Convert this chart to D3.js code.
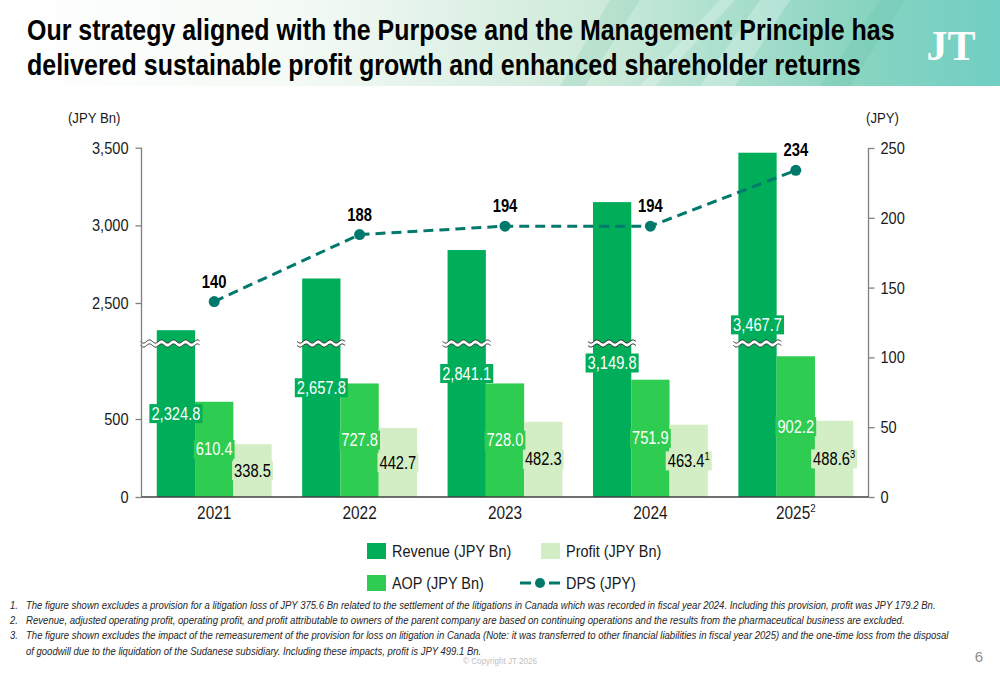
<!DOCTYPE html>
<html lang="en">
<head>
<meta charset="UTF-8">
<title>JT profit growth and shareholder returns</title>
<script src="https://d3js.org/d3.v7.min.js"></script>
<style>
  body { margin: 0; background: #fff; }
  svg text { font-family: "Liberation Sans", Arial, sans-serif; }
</style>
</head>
<body>
<svg id="chart" width="1000" height="685"></svg>
<script>
// ---- data ----
const years = ["2021", "2022", "2023", "2024", "2025"];
const yearNotes = ["", "", "", "", "2"];
const revenue = [2324.8, 2657.8, 2841.1, 3149.8, 3467.7];
const aop = [610.4, 727.8, 728.0, 751.9, 902.2];
const profit = [338.5, 442.7, 482.3, 463.4, 488.6];
const profitNotes = ["", "", "", "1", "3"];
const dps = [140, 188, 194, 194, 234];
const leftTicksLow = [0, 500];
const leftTicksHigh = [2500, 3000, 3500];
const rightTicks = [0, 50, 100, 150, 200, 250];
const footnotes = [
  "The figure shown excludes a provision for a litigation loss of JPY 375.6 Bn related to the settlement of the litigations in Canada which was recorded in fiscal year 2024. Including this provision, profit was JPY 179.2 Bn.",
  "Revenue, adjusted operating profit, operating profit, and profit attributable to owners of the parent company are based on continuing operations and the results from the pharmaceutical business are excluded.",
  "The figure shown excludes the impact of the remeasurement of the provision for loss on litigation in Canada (Note: it was transferred to other financial liabilities in fiscal year 2025) and the one-time loss from the disposal",
  "of goodwill due to the liquidation of the Sudanese subsidiary. Including these impacts, profit is JPY 499.1 Bn."
];

const colors = { rev: "#00ae5a", aop: "#2ecc50", profit: "#d3edc4", dps: "#00796d" };

const svg = d3.select("#chart");

// the slide uses a narrow face; squeeze Liberation Sans horizontally around each text's x
function squeeze(sel, sx) {
  sel.each(function () {
    const x = +this.getAttribute("x") || 0;
    this.setAttribute("transform", `translate(${x * (1 - sx)},0) scale(${sx},1)`);
  });
  return sel;
}
function fitWidth(sel, w) {
  sel.each(function () {
    const sx = w / this.getComputedTextLength();
    squeeze(d3.select(this), sx);
  });
  return sel;
}

// ---- header band ----
const defs = svg.append("defs");
const grad = defs.append("linearGradient").attr("id", "hdr").attr("x1", "0").attr("x2", "1").attr("y1", "0").attr("y2", "0");
grad.append("stop").attr("offset", "0").attr("stop-color", "#ffffff");
grad.append("stop").attr("offset", "0.3").attr("stop-color", "#f4faf5");
grad.append("stop").attr("offset", "0.6").attr("stop-color", "#cdeada");
grad.append("stop").attr("offset", "0.85").attr("stop-color", "#8ad5c1");
grad.append("stop").attr("offset", "1").attr("stop-color", "#70cec3");
svg.append("rect").attr("width", 1000).attr("height", 86).attr("fill", "url(#hdr)");
const streaks = [
  [[560, 86], [610, 0], [640, 0], [585, 86]],
  [[700, 86], [760, 0], [790, 0], [735, 86]],
  [[820, 86], [880, 0], [905, 0], [850, 86]],
  [[640, 86], [720, 0], [735, 0], [655, 86]]
];
svg.append("g").selectAll("polygon").data(streaks).join("polygon")
  .attr("points", d => d.map(p => p.join(",")).join(" "))
  .attr("fill", (d, i) => i % 2 ? "#ffffff" : "#5fbf9a")
  .attr("opacity", (d, i) => i % 2 ? 0.25 : 0.18);

const titleLines = [
  { t: "Our strategy aligned with the Purpose and the Management Principle has", y: 40, w: 868 },
  { t: "delivered sustainable profit growth and enhanced shareholder returns", y: 75, w: 834 }
];
svg.append("g").selectAll("text").data(titleLines).join("text")
  .attr("x", 27).attr("y", d => d.y)
  .attr("font-size", 30).attr("font-weight", "bold").attr("fill", "#000")
  .text(d => d.t)
  .each(function (d) { fitWidth(d3.select(this), d.w); });

svg.append("text").attr("x", 951).attr("y", 60).attr("text-anchor", "middle")
  .style("font-family", "'Liberation Serif', 'DejaVu Serif', serif")
  .attr("font-size", 42).attr("font-weight", "bold").attr("fill", "#fff")
  .text("JT");

// ---- scales ----
const left = 141.5, right = 868.5, base = 497;
const yLow = d3.scaleLinear().domain([0, 500]).range([base, 419]);
const yHigh = d3.scaleLinear().domain([2500, 3500]).range([303, 147.7]);
const breakTop = 341.5, breakBot = 345.5;
const yBar = v => v < 1500 ? yLow(v) : yHigh(v);
const yR = d3.scaleLinear().domain([0, 250]).range([base, 148]);
const x0 = d3.scaleBand().domain(years).range([left, right]);
const groupW = x0.bandwidth() * 0.79;
const x1 = d3.scaleBand().domain(["rev", "aop", "profit"]).range([-groupW / 2, groupW / 2]);
const cx = y => x0(y) + x0.bandwidth() / 2;

const fmt1 = d3.format(",.1f");
const fmtInt = d3.format(",");

// ---- bars ----
const g = svg.append("g");
const series = [
  { key: "rev", vals: revenue },
  { key: "aop", vals: aop },
  { key: "profit", vals: profit }
];
series.forEach(s => {
  g.selectAll(null).data(years).join("rect")
    .attr("x", y => cx(y) + x1(s.key))
    .attr("width", x1.bandwidth())
    .attr("y", (y, i) => yBar(s.vals[i]))
    .attr("height", (y, i) => base - yBar(s.vals[i]))
    .attr("fill", colors[s.key]);
});

// ---- axis break marks ----
function wave(xa, xb, y) {
  const pts = [];
  for (let x = xa; x <= xb; x += 1) pts.push([x, y + 1.6 * Math.sin((x - xa) / 12 * 2 * Math.PI)]);
  return pts;
}
function drawBreak(xa, xb) {
  const top = wave(xa, xb, breakTop), bot = wave(xa, xb, breakBot);
  g.append("path").attr("d", d3.line()(top.concat(bot.slice().reverse())) + "Z").attr("fill", "#fff");
  g.append("path").attr("d", d3.line()(top)).attr("fill", "none").attr("stroke", "#333").attr("stroke-width", 1);
  g.append("path").attr("d", d3.line()(bot)).attr("fill", "none").attr("stroke", "#333").attr("stroke-width", 1);
}

// ---- axes ----
const axisColor = "#808080";
const axG = svg.append("g");
axG.append("line").attr("x1", left).attr("x2", left).attr("y1", base).attr("y2", yHigh(3500)).attr("stroke", axisColor).attr("stroke-width", 1.3);
axG.append("line").attr("x1", right).attr("x2", right).attr("y1", base).attr("y2", yR(250)).attr("stroke", axisColor).attr("stroke-width", 1.3);

function styleAxis(sel) {
  sel.select(".domain").remove();
  sel.selectAll(".tick line").attr("stroke", axisColor).attr("stroke-width", 1.3);
  squeeze(sel.selectAll(".tick text").attr("font-size", 17).attr("fill", "#1a1a1a")
    .style("font-family", "'Liberation Sans', Arial, sans-serif"), 0.86);
}
axG.append("g").attr("transform", `translate(${left},0)`)
  .call(d3.axisLeft(yLow).tickValues(leftTicksLow).tickFormat(fmtInt).tickSize(6).tickPadding(7))
  .call(styleAxis);
axG.append("g").attr("transform", `translate(${left},0)`)
  .call(d3.axisLeft(yHigh).tickValues(leftTicksHigh).tickFormat(fmtInt).tickSize(6).tickPadding(7))
  .call(styleAxis);
axG.append("g").attr("transform", `translate(${right},0)`)
  .call(d3.axisRight(yR).tickValues(rightTicks).tickSize(6).tickPadding(6))
  .call(styleAxis);

axG.append("line").attr("x1", left).attr("x2", right).attr("y1", base).attr("y2", base).attr("stroke", "#404040").attr("stroke-width", 1.3);
const catText = axG.selectAll(null).data(years).join("text")
  .attr("x", y => cx(y)).attr("y", 519).attr("text-anchor", "middle")
  .attr("font-size", 17.5).attr("fill", "#1a1a1a");
catText.append("tspan").text(y => y);
catText.append("tspan").attr("font-size", 11).attr("dy", -7).text((y, i) => yearNotes[i]);
squeeze(catText, 0.88);

squeeze(svg.append("text").attr("x", 68).attr("y", 123).attr("font-size", 15.5).attr("fill", "#1a1a1a").text("(JPY Bn)"), 0.85);
squeeze(svg.append("text").attr("x", 866).attr("y", 123).attr("font-size", 15.5).attr("fill", "#1a1a1a").text("(JPY)"), 0.85);

years.forEach((y, i) => {
  const xa = cx(y) + x1("rev");
  drawBreak(i === 0 ? left - 1 : xa - 5, xa + x1.bandwidth() + 5);
});

// ---- value labels with background boxes ----
const labelSx = 0.84;
function boxLabel(x, yc, parts, fill, bg) {
  const t = g.append("text").attr("x", x).attr("y", yc).attr("dy", "0.35em")
    .attr("text-anchor", "middle").attr("font-size", 17.5).attr("fill", fill);
  t.append("tspan").text(parts[0]);
  if (parts[1]) t.append("tspan").attr("font-size", 11).attr("dy", -7).text(parts[1]);
  const w = t.node().getComputedTextLength() * labelSx + 4;
  squeeze(t, labelSx);
  g.insert("rect", () => t.node())
    .attr("x", x - w / 2).attr("y", yc - 9.5).attr("width", w).attr("height", 19)
    .attr("fill", bg);
}
years.forEach((y, i) => {
  // revenue label sits mid-bar, pushed below the break if it would overlap it
  let ym = (base + yBar(revenue[i])) / 2;
  if (Math.abs(ym - (breakTop + breakBot) / 2) < 14) ym = breakBot + 17.5;
  boxLabel(cx(y) + x1("rev") + x1.bandwidth() / 2, ym, [fmt1(revenue[i])], "#fff", colors.rev);
  boxLabel(cx(y) + x1("aop") + x1.bandwidth() / 2, (base + yLow(aop[i])) / 2, [fmt1(aop[i])], "#fff", colors.aop);
  boxLabel(cx(y) + x1("profit") + x1.bandwidth() / 2, (base + yLow(profit[i])) / 2, [fmt1(profit[i]), profitNotes[i]], "#000", colors.profit);
});

// ---- DPS line ----
const line = d3.line().x((d, i) => cx(years[i])).y(d => yR(d));
g.append("path").datum(dps).attr("d", line)
  .attr("fill", "none").attr("stroke", colors.dps).attr("stroke-width", 3)
  .attr("stroke-dasharray", "10,6");
g.selectAll(null).data(dps).join("circle")
  .attr("cx", (d, i) => cx(years[i])).attr("cy", d => yR(d)).attr("r", 5.5)
  .attr("fill", colors.dps);
squeeze(g.selectAll(null).data(dps).join("text")
  .attr("x", (d, i) => cx(years[i])).attr("y", d => yR(d) - 14)
  .attr("text-anchor", "middle").attr("font-size", 18.5).attr("font-weight", "bold").attr("fill", "#000")
  .text(d => d), 0.8);

// ---- legend ----
const legend = svg.append("g").attr("font-size", 17).attr("fill", "#1a1a1a");
const legendItems = [
  { label: "Revenue (JPY Bn)", color: colors.rev, x: 367, y: 543, type: "box" },
  { label: "Profit (JPY Bn)", color: colors.profit, x: 541, y: 543, type: "box" },
  { label: "AOP (JPY Bn)", color: colors.aop, x: 367, y: 575, type: "box" },
  { label: "DPS (JPY)", color: colors.dps, x: 520, y: 575, type: "line" }
];
legendItems.forEach(it => {
  let tx;
  if (it.type === "box") {
    legend.append("rect").attr("x", it.x).attr("y", it.y).attr("width", 19).attr("height", 16).attr("fill", it.color);
    tx = it.x + 25;
  } else {
    [[0, 11], [29, 40]].forEach(([a, b]) => legend.append("line")
      .attr("x1", it.x + a).attr("x2", it.x + b).attr("y1", it.y + 8).attr("y2", it.y + 8)
      .attr("stroke", it.color).attr("stroke-width", 3));
    legend.append("circle").attr("cx", it.x + 20).attr("cy", it.y + 8).attr("r", 5).attr("fill", it.color);
    tx = it.x + 46;
  }
  squeeze(legend.append("text").attr("x", tx).attr("y", it.y + 8).attr("dy", "0.35em").text(it.label), 0.85);
});

// ---- footnotes ----
const fn = svg.append("g").attr("font-size", 11).attr("font-style", "italic").attr("fill", "#262626");
const fnNums = ["1.", "2.", "3.", ""];
const fnWidths = [911, 880, 923, 456];
footnotes.forEach((t, i) => {
  const y = 609 + i * 15.2;
  if (fnNums[i]) squeeze(fn.append("text").attr("x", 10).attr("y", y).text(fnNums[i]), 0.85);
  fitWidth(fn.append("text").attr("x", 26).attr("y", y).text(t), fnWidths[i]);
});
squeeze(svg.append("text").attr("x", 500).attr("y", 664).attr("text-anchor", "middle")
  .attr("font-size", 9.5).attr("fill", "#bfbfbf").text("© Copyright JT 2026"), 0.85);
svg.append("text").attr("x", 979).attr("y", 662).attr("text-anchor", "middle")
  .attr("font-size", 15).attr("fill", "#8c8c8c").text("6");
</script>
</body>
</html>
